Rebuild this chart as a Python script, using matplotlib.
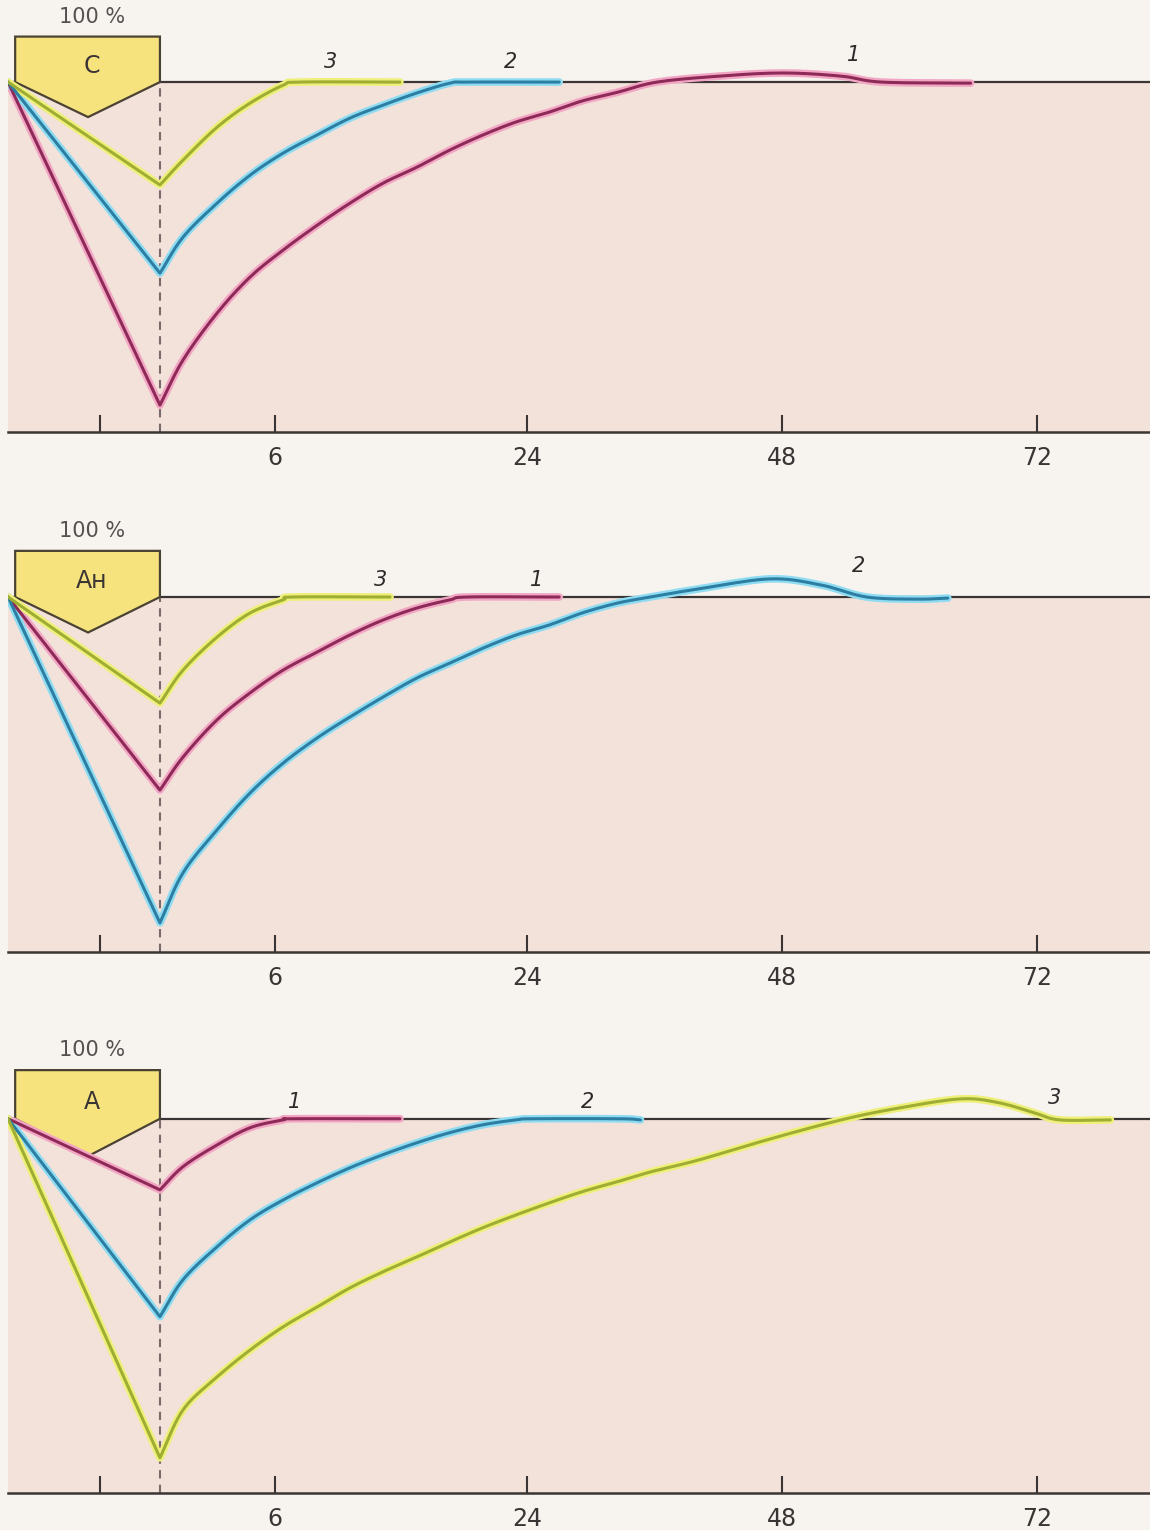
import matplotlib.pyplot as plt
import numpy as np
from matplotlib.patches import Polygon

# x is measured in tick-spacing units from the origin of each panel,
# y is percent of the starting level (100 = the baseline)
tick_pos = [0.362, 1.051, 2.043, 3.047, 4.051]
tick_labels = ['', '6', '24', '48', '72']
dose_end = 0.598

panel_names = ['С', 'Ан', 'А']

# panel С
c1_x = [0, 0.598, 0.689, 0.823, 0.953, 1.083, 1.217, 1.346, 1.476, 1.61, 1.74, 1.87, 2.0,
        2.13, 2.26, 2.4, 2.555, 2.8, 3.05, 3.28, 3.44, 3.79]
c1_y = [100, 7.7, 20.6, 34, 44.3, 52, 59.1, 65.4, 71.1, 75.7, 80.6, 84.9, 88.6,
        91.4, 94.6, 97.1, 100, 101.7, 102.6, 101.7, 100, 99.7]
c2_x = [0, 0.598, 0.689, 0.823, 0.953, 1.083, 1.217, 1.346, 1.476, 1.61, 1.74, 1.81, 2.17]
c2_y = [100, 45.4, 55.7, 65.4, 73.4, 79.7, 84.9, 89.7, 93.4, 96.9, 99.7, 100, 100]
c3_x = [0, 0.598, 0.689, 0.823, 0.953, 1.083, 1.15, 1.543]
c3_y = [100, 70.6, 77.7, 87.1, 94, 99.1, 100, 100]

# panel Ан
an1_x = [0, 0.598, 0.689, 0.823, 0.953, 1.083, 1.217, 1.346, 1.476, 1.61, 1.74, 1.81, 2.17]
an1_y = [100, 45.6, 54.9, 65.4, 73, 79.4, 84.5, 89.3, 93.5, 96.9, 99.2, 100, 100]
an2_x = [0, 0.598, 0.689, 0.823, 0.953, 1.083, 1.217, 1.346, 1.476, 1.61, 1.74, 1.87, 2.0,
         2.13, 2.26, 2.4, 2.53, 2.72, 3.0, 3.2, 3.38, 3.58, 3.7]
an2_y = [100, 8.2, 22.3, 34.4, 44.8, 53.2, 60.3, 66.2, 71.8, 77.2, 81.4, 85.6, 89.3,
         92.1, 95.5, 98.3, 100, 102.3, 105.1, 103.4, 100, 99.4, 99.7]
an3_x = [0, 0.598, 0.689, 0.823, 0.953, 1.083, 1.122, 1.504]
an3_y = [100, 70.1, 79.4, 88.7, 95.5, 99.2, 100, 100]

# panel А
a1_x = [0, 0.598, 0.689, 0.823, 0.953, 1.083, 1.122, 1.543]
a1_y = [100, 81, 87.2, 93, 97.6, 99.7, 100, 100]
a2_x = [0, 0.598, 0.689, 0.823, 0.953, 1.083, 1.217, 1.346, 1.476, 1.61, 1.74, 1.87, 2.0,
        2.07, 2.41, 2.49]
a2_y = [100, 47.1, 57, 65.8, 73, 78.3, 82.9, 86.9, 90.4, 93.6, 96.3, 98.4, 99.7,
        100, 100, 99.7]
a3_x = [0, 0.598, 0.689, 0.823, 0.953, 1.083, 1.217, 1.346, 1.476, 1.61, 1.74, 1.87, 2.0,
        2.13, 2.26, 2.4, 2.53, 2.72, 2.99, 3.28, 3.51, 3.75, 3.9, 4.04, 4.14, 4.34]
a3_y = [100, 9.4, 22.2, 31, 38.2, 44.4, 49.7, 54.8, 59.1, 63.1, 67.1, 70.9, 74.3,
        77.5, 80.5, 83.2, 85.8, 89, 94.4, 99.7, 102.9, 105.3, 104.3, 101.6, 99.7, 99.7]

# curve number labels: (text, x, y)
c_labels = [('3', 1.27, 105.7), ('2', 1.98, 105.7), ('1', 3.33, 107.7)]
an_labels = [('3', 1.465, 104.8), ('1', 2.08, 104.8), ('2', 3.35, 108.7)]
a_labels = [('1', 1.13, 104.5), ('2', 2.28, 104.5), ('3', 4.12, 105.5)]

colors = {
    1: ('#f2a6c4', '#8e2a58'),
    2: ('#8fdcf2', '#2c7fa2'),
    3: ('#eef07a', '#9fae32'),
}


def smooth(xs, ys, n=10):
    # straight fall to the minimum, Catmull-Rom through the recovery points
    px = np.array(xs[1:], dtype=float)
    py = np.array(ys[1:], dtype=float)
    px = np.concatenate([[2 * px[0] - px[1]], px, [2 * px[-1] - px[-2]]])
    py = np.concatenate([[2 * py[0] - py[1]], py, [2 * py[-1] - py[-2]]])
    out_x = [xs[0]]
    out_y = [ys[0]]
    t = np.linspace(0, 1, n, endpoint=False)
    for i in range(1, len(px) - 2):
        for arr, out in ((px, out_x), (py, out_y)):
            p0, p1, p2, p3 = arr[i - 1], arr[i], arr[i + 1], arr[i + 2]
            seg = 0.5 * (2 * p1 + (-p0 + p2) * t
                         + (2 * p0 - 5 * p1 + 4 * p2 - p3) * t ** 2
                         + (-p0 + 3 * p1 - 3 * p2 + p3) * t ** 3)
            out.extend(seg)
    out_x.append(xs[-1])
    out_y.append(ys[-1])
    return out_x, out_y


panels = [
    (panel_names[0], [(1, c1_x, c1_y), (2, c2_x, c2_y), (3, c3_x, c3_y)], c_labels),
    (panel_names[1], [(1, an1_x, an1_y), (2, an2_x, an2_y), (3, an3_x, an3_y)], an_labels),
    (panel_names[2], [(1, a1_x, a1_y), (2, a2_x, a2_y), (3, a3_x, a3_y)], a_labels),
]

# axes rectangles in figure fractions
boxes = [
    [0.007, 0.7176, 0.993, 0.2745],
    [0.007, 0.3778, 0.993, 0.2784],
    [0.007, 0.0242, 0.993, 0.2935],
]

fig = plt.figure(figsize=(11.5, 15.3), dpi=100, facecolor='#f7f3ef')

for (name, curves, labels), box in zip(panels, boxes):
    ax = fig.add_axes(box)
    ax.set_facecolor('none')
    ax.set_xlim(0, 4.496)
    ax.set_ylim(0, 120)
    ax.axhspan(0, 100, color='#f3e2da', zorder=0, lw=0)
    ax.axhline(100, color='#3a3434', lw=1.6, zorder=2)
    ax.plot([dose_end, dose_end], [0, 100], color='#7a6a6a', lw=1.5,
            ls=(0, (4, 3)), zorder=2)

    pent = Polygon([(0.028, 113), (dose_end, 113), (dose_end, 100), (0.315, 90),
                    (0.028, 100)], closed=True, facecolor='#f6e37e',
                   edgecolor='#4a4232', lw=1.6, zorder=3)
    ax.add_patch(pent)
    ax.text(0.33, 104.5, name, fontsize=17, ha='center', va='center',
            color='#3a3434', zorder=4)
    ax.text(0.33, 118.5, '100 %', fontsize=15, ha='center', va='center',
            color='#555050', clip_on=False)

    for num, xs, ys in curves:
        halo, core = colors[num]
        sx, sy = smooth(xs, ys)
        ax.plot(sx, sy, color=halo, lw=5.5, solid_capstyle='round', zorder=4)
        ax.plot(sx, sy, color=core, lw=2.2, solid_capstyle='round', zorder=5)

    for txt, lx, ly in labels:
        ax.text(lx, ly, txt, fontsize=15, style='italic', ha='center',
                va='center', color='#2e2a2a', zorder=6)

    for side in ['top', 'left', 'right']:
        ax.spines[side].set_visible(False)
    ax.spines['bottom'].set_color('#3a3434')
    ax.spines['bottom'].set_linewidth(1.8)
    ax.set_xticks(tick_pos)
    ax.set_xticklabels(tick_labels, fontsize=17, color='#3a3434')
    ax.tick_params(axis='x', direction='in', length=12, width=1.5,
                   color='#3a3434', pad=10)
    ax.set_yticks([])

fig.savefig('out.png', dpi=100, facecolor=fig.get_facecolor())
